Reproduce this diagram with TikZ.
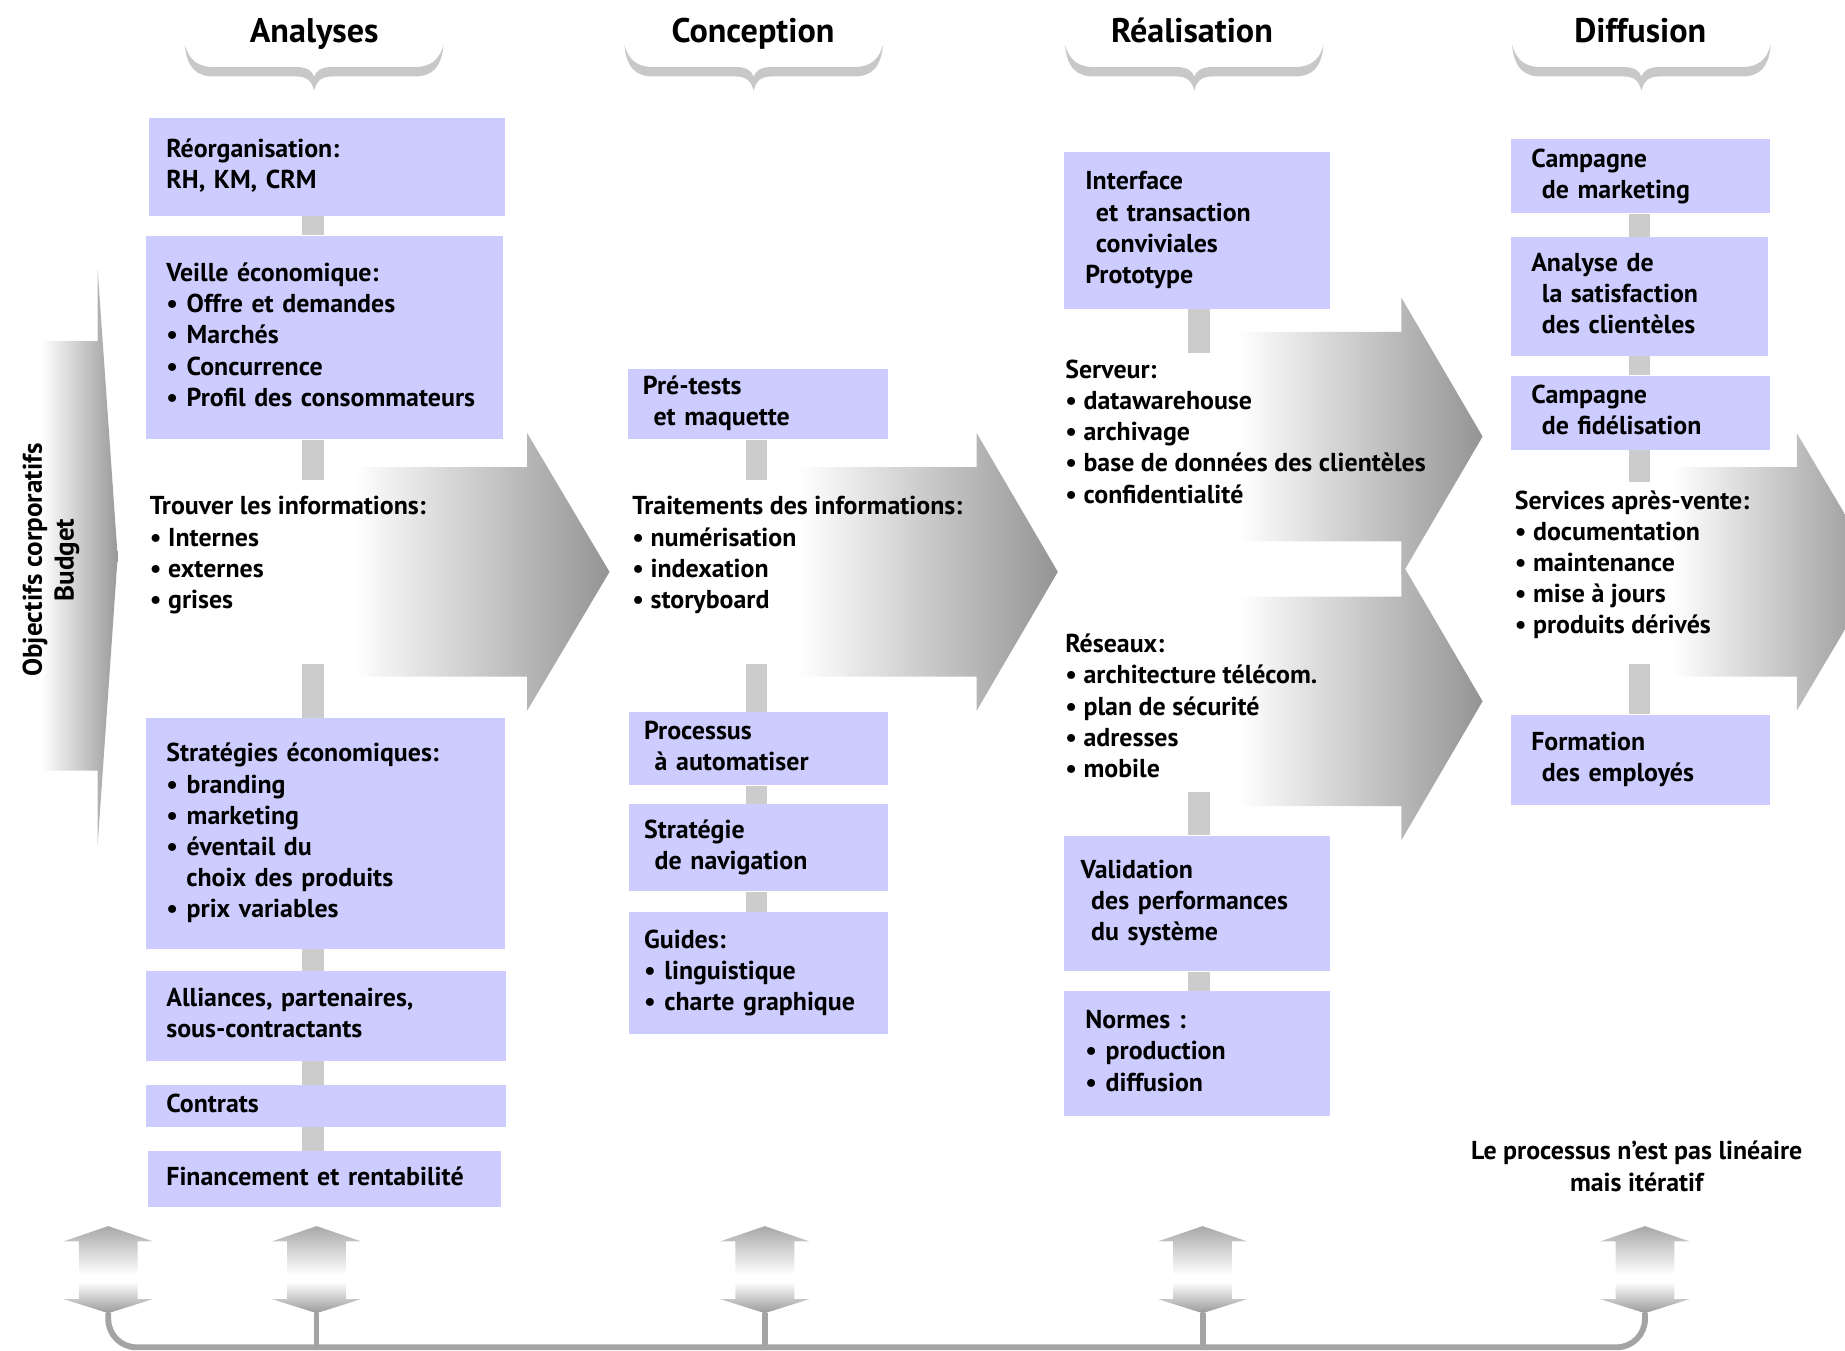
\documentclass[tikz,border=0pt]{standalone}
\usepackage{fontspec}
\setmainfont{PT Sans}
\setlength\parindent{0pt}
\definecolor{boxc}{HTML}{CCCCFF}
\definecolor{barc}{HTML}{CCCCCC}
\definecolor{bracec}{HTML}{C8C8C8}
\definecolor{stemc}{HTML}{A4A4A4}
\pgfdeclarehorizontalshading{hshade}{100bp}{color(0bp)=(white); color(32bp)=(white); color(75bp)=(black!42); color(100bp)=(black!42)}
\pgfdeclarehorizontalshading{lshade}{100bp}{color(0bp)=(white); color(25bp)=(white); color(75bp)=(black!40); color(100bp)=(black!40)}
\pgfdeclareverticalshading{vshade}{100bp}{color(0bp)=(black!40); color(25bp)=(black!40); color(43bp)=(white); color(47bp)=(white); color(75bp)=(black!34); color(100bp)=(black!34)}
\pgfdeclarelayer{back}
\pgfdeclarelayer{mid}
\pgfsetlayers{back,mid,main}
\newcommand\bodyfont{\fontsize{11pt}{13.25pt}\selectfont\bfseries}
\newcommand\titlefont{\fontsize{14.5pt}{16pt}\selectfont\bfseries}
\newcommand\myind{\hspace*{4.5pt}}
\newcommand\mybox[7][16]{%
  \pgfmathsetlengthmacro\mbw{#5*0.5pt}%
  \pgfmathsetlengthmacro\mbh{#6*0.5pt}%
  \pgfmathsetlengthmacro\mbp{#1*0.5pt}%
  \pgfmathsetlengthmacro\mbt{(#5-2*#1)*0.5pt}%
  \node[box, anchor=north west, minimum width=\mbw, minimum height=\mbh, inner xsep=\mbp, text width=\mbt] (#2) at (#3,#4) {#7};}
\newcommand\bigarrow[4]{%
  \shade[shading=hshade] (#1,{#4-89}) -- (#2,{#4-89}) -- (#2,{#4-118}) -- (#3,#4) -- (#2,{#4+118}) -- (#2,{#4+89}) -- (#1,{#4+89}) -- cycle;}
\newcommand\dblarrow[2]{%
  \shade[shading=vshade] (#1,1042) -- ({#1+38},1055) -- ({#1+25},1055) -- ({#1+25},1104) -- ({#1+38},1104) -- (#1,1116) -- ({#1-38},1104) -- ({#1-25},1104) -- ({#1-25},1055) -- ({#1-38},1055) -- cycle;
  \coordinate (#2) at (#1,1116);}
\newcommand\mybrace[1]{%
  \fill[bracec] ({#1-110},38) .. controls ({#1-108},58) and ({#1-100},65) .. ({#1-85},65) -- ({#1-15},65) .. controls ({#1-5},65) and ({#1-2},70) .. (#1,77) .. controls ({#1+2},70) and ({#1+5},65) .. ({#1+15},65) -- ({#1+85},65) .. controls ({#1+100},65) and ({#1+108},58) .. ({#1+110},38) .. controls ({#1+106},52) and ({#1+98},57) .. ({#1+85},57) -- ({#1+15},57) .. controls ({#1+6},57) and ({#1+2},60) .. (#1,65) .. controls ({#1-2},60) and ({#1-6},57) .. ({#1-15},57) -- ({#1-85},57) .. controls ({#1-98},57) and ({#1-106},52) .. ({#1-110},38) -- cycle;}
\begin{document}
\begin{tikzpicture}[x=0.5pt,y=-0.5pt,
  box/.style={fill=boxc, draw=none, inner ysep=0pt, align=left, font=\bodyfont,
    execute at begin node={\rightskip=0pt plus 1fil minus 200pt\strut}, execute at end node=\strut},
  txt/.style={inner sep=0pt, align=left, font=\bodyfont, execute at begin node=\strut, execute at end node=\strut},
  ttl/.style={inner sep=0pt, anchor=base, font=\titlefont},
  bar/.style={draw=barc, line width=9pt},
  stem/.style={draw=stemc, line width=2.5pt}]
\useasboundingbox (0,0) rectangle (1568,1148);

% titles and braces
\node[ttl] (tA) at (267,36) {Analyses};
\node[ttl] (tC) at (640,36) {Conception};
\node[ttl] (tR) at (1013,36) {Réalisation};
\node[ttl] (tD) at (1394,36) {Diffusion};
\mybrace{267}
\mybrace{640.5}
\mybrace{1015}
\mybrace{1395}

% column 1
\mybox[15]{reorg}{126}{100}{303}{83}{Réorganisation:\\RH, KM, CRM}
\mybox[17]{veille}{124}{200}{303}{173}{Veille économique:\\• Offre et demandes\\• Marchés\\• Concurrence\\• Profil des consommateurs}
\node[txt, anchor=north west] (trouver) at (127,421.5) {Trouver les informations:\\• Internes\\• externes\\• grises};
\mybox[17]{strat}{124}{610}{305}{196}{Stratégies économiques:\\• branding\\• marketing\\• éventail du\\\hspace*{8.5pt}choix des produits\\• prix variables}
\mybox[17]{alli}{124}{825}{306}{76}{Alliances, partenaires,\\sous-contractants}
\mybox[17]{contr}{124}{922}{306}{35}{Contrats}
\mybox[16]{fin}{125}{978}{300}{47}{Financement et rentabilité}

% column 2
\mybox[13]{pret}{533}{313}{221}{60}{Pré-tests\\\myind et maquette}
\node[txt, anchor=north west] (trait) at (537,421.5) {Traitements des informations:\\• numérisation\\• indexation\\• storyboard};
\mybox[13]{proc}{534}{605}{220}{62}{Processus\\\myind à automatiser}
\mybox[13]{strn}{534}{683}{220}{74}{Stratégie\\\myind de navigation}
\mybox[13]{guid}{534}{775}{220}{103}{Guides:\\• linguistique\\• charte graphique}

% column 3
\mybox[18]{intf}{904}{129}{226}{133}{Interface\\\myind et transaction\\\myind conviviales\\Prototype}
\node[txt, anchor=north west] (serv) at (905,305.5) {Serveur:\\• datawarehouse\\• archivage\\• base de données des clientèles\\• confidentialité};
\node[txt, anchor=north west] (res) at (905,538.5) {Réseaux:\\• architecture télécom.\\• plan de sécurité\\• adresses\\• mobile};
\mybox[14]{valid}{904}{710}{226}{115}{Validation\\\myind des performances\\\myind du système}
\mybox[18]{norm}{904}{842}{226}{106}{Normes :\\• production\\• diffusion}

% column 4
\mybox[17]{mkt}{1284}{118}{220}{63}{Campagne\\\myind de marketing}
\mybox[17]{satis}{1284}{201}{218}{101}{Analyse de\\\myind la satisfaction\\\myind des clientèles}
\mybox[17]{fidel}{1284}{319}{220}{63}{Campagne\\\myind de fidélisation}
\node[txt, anchor=north west] (serv2) at (1287,416.5) {Services après-vente:\\• documentation\\• maintenance\\• mise à jours\\• produits dérivés};
\mybox[17]{form}{1284}{607}{220}{77}{Formation\\\myind des employés}

\node[txt, align=center, anchor=north] (note) at (1391,969.5) {Le processus n'est pas linéaire\\mais itératif};
\node[txt, align=center, rotate=90, font=\fontsize{11.5pt}{13.5pt}\selectfont\bfseries] (obj) at (45,476) {Objectifs corporatifs\\Budget};

% bottom double arrows
\dblarrow{92}{u1}
\dblarrow{269}{u2}
\dblarrow{650}{u3}
\dblarrow{1022}{u4}
\dblarrow{1398}{u5}
\coordinate (bl) at (0,1145);

% column coordinates and free ends
\coordinate (k1) at (266,0);
\coordinate (k2) at (643,0);
\coordinate (k3) at (1019,0);
\coordinate (k4) at (1393,0);
\coordinate (a1top) at (266,408);
\coordinate (a1bot) at (266,564);
\coordinate (a2top) at (643,408);
\coordinate (a2bot) at (643,564);
\coordinate (a3top) at (1019,300);
\coordinate (a3bot) at (1019,673);
\coordinate (a4top) at (1393,410);
\coordinate (a4bot) at (1393,564);

\begin{pgfonlayer}{mid}
\draw[bar] (reorg.south -| k1) -- (veille.north -| k1);
\draw[bar] (veille.south -| k1) -- (a1top);
\draw[bar] (a1bot) -- (strat.north -| k1);
\draw[bar] (strat.south -| k1) -- (alli.north -| k1);
\draw[bar] (alli.south -| k1) -- (contr.north -| k1);
\draw[bar] (contr.south -| k1) -- (fin.north -| k1);
\draw[bar] (pret.south -| k2) -- (a2top);
\draw[bar] (a2bot) -- (proc.north -| k2);
\draw[bar] (proc.south -| k2) -- (strn.north -| k2);
\draw[bar] (strn.south -| k2) -- (guid.north -| k2);
\draw[bar] (intf.south -| k3) -- (a3top);
\draw[bar] (a3bot) -- (valid.north -| k3);
\draw[bar] (valid.south -| k3) -- (norm.north -| k3);
\draw[bar] (mkt.south -| k4) -- (satis.north -| k4);
\draw[bar] (satis.south -| k4) -- (fidel.north -| k4);
\draw[bar] (fidel.south -| k4) -- (a4top);
\draw[bar] (a4bot) -- (form.north -| k4);
\end{pgfonlayer}

\begin{pgfonlayer}{back}
\bigarrow{265}{448}{518}{486}
\bigarrow{643}{830}{899}{486}
\bigarrow{1019}{1191}{1260}{371}
\bigarrow{1019}{1191}{1260}{596}
\bigarrow{1393}{1527}{1597}{486}
\shade[shading=lshade] (35,290) -- (83,290) -- (83,229) -- (100,473) -- (83,718) -- (83,655) -- (35,655) -- cycle;
\draw[stem, rounded corners=12pt] (u1) |- (u5 |- bl) -- (u5);
\draw[stem] (u2) -- (u2 |- bl);
\draw[stem] (u3) -- (u3 |- bl);
\draw[stem] (u4) -- (u4 |- bl);
\end{pgfonlayer}
\end{tikzpicture}
\end{document}
